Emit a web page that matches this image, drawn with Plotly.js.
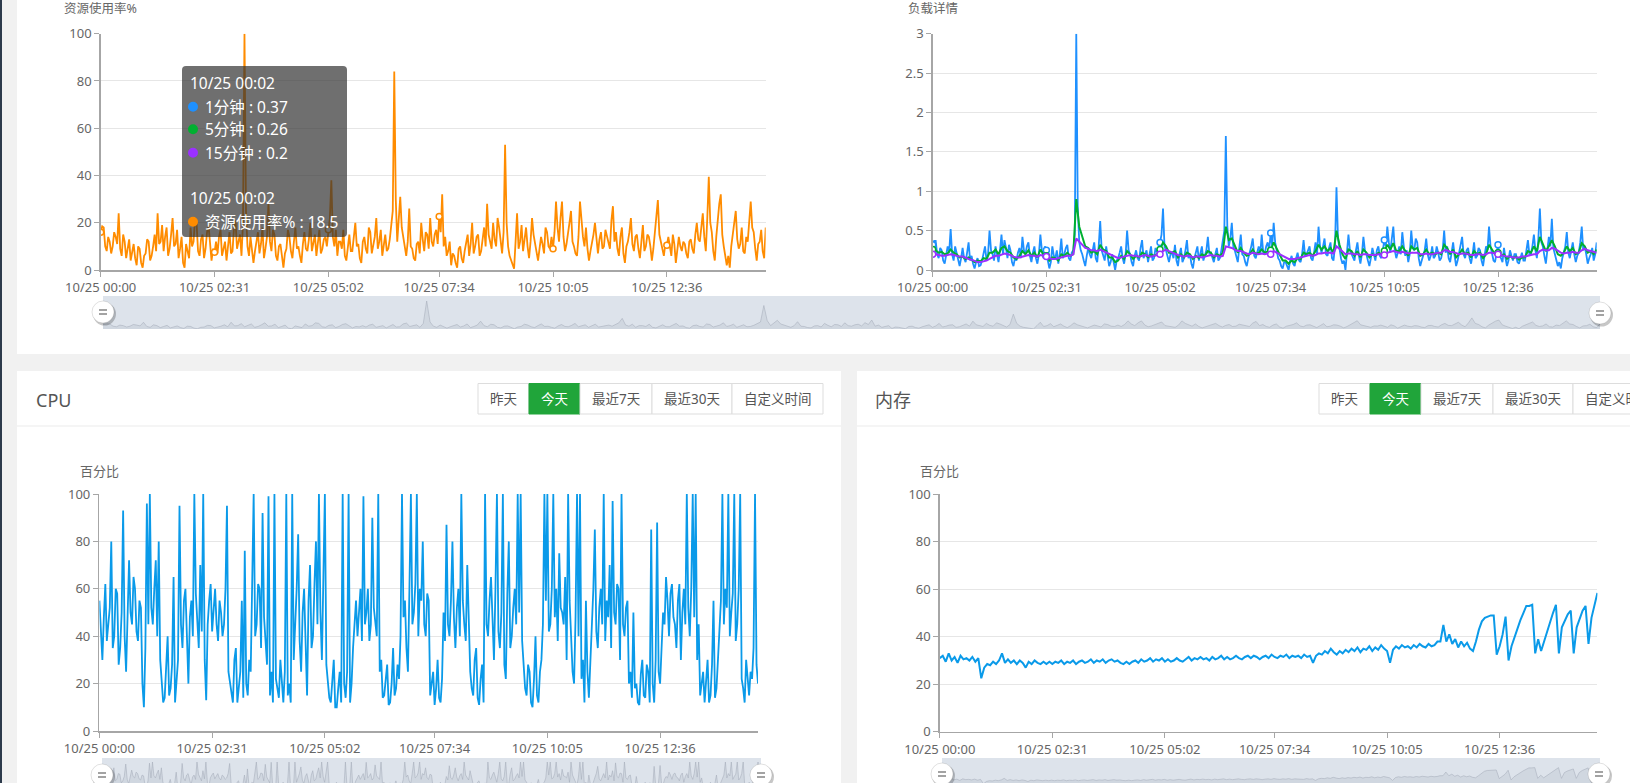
<!DOCTYPE html>
<html><head><meta charset="utf-8">
<script src="https://cdn.plot.ly/plotly-3.0.1.min.js"></script>
<style>html,body{margin:0;padding:0;background:#f1f1f1;overflow:hidden}#chart{width:1630px;height:783px}</style>
</head><body><div id="chart"></div>
<script>
// ---------- data ----------
const tickLabels = ['10/25 00:00','10/25 02:31','10/25 05:02','10/25 07:34','10/25 10:05','10/25 12:36'];
const tickMinutes = [0,152,304,452,604,756];
const fineStep = 2;    // minutes between samples (usage, load1, cpu)
const coarseStep = 4;  // minutes between samples (load5, load15, mem)

const usage = [
16,18.5,18,10,8,14,12,7,10,16,14,11,24,9,6,15,12,5,9,13,
4,8,11,5,2,10,9,3,1,6,7,13,12,4,6,10,15,8,24,11,
12,19,8,14,18,6,9,15,22,10,11,17,5,9,14,3,1,11,8,5,
18,10,12,22,20,8,6,13,15,5,9,16,19,12,4,9,7.5,12,7,14,
17,6,10,12,4,9,16,7,8,18,21,9,12,15,6,20,100,25,10,6,
14,9,3,8,12,16,7,11,18,5,9,14,28,12,8,17,15,6,4,10,
11,5,1,7,9,17,14,8,5,12,18,9,10,6,3,11,16,9,8,13,
20,8,12,15,6,11,17,7,9,13,14,10,17,22,38,14,10,17,6,12,
12,9,17,6,4,11,15,8,8,14,20,10,11,5,3,12,14,9,7,18,
16,7,10,14,22,9,12,17,6,11,15,8,9,13,18,25,84,30,12,20,
31,18,14,9,6,12,26,10,9,5,4,11,12,7,20,13,8,16,15,9,
22,12,10,15,17,11,22.6,16,32,10,14,6,8,12,2,7,6,3,1,9,
10,5,3,8,12,15,6,11,20,7,10,14,15,6,8,12,18,10,28,15,
12,9,20,13,10,22,18,12,7,16,53,20,10,6,4,2,0.5,12,24,9,
12,19,8,13,18,10,5,12,22,15,11,7,4,9,14,11,7,18,16,10,
9,14,9,16,29,18,12,22,29,14,8,11,15,20,25,12,10,7,6,14,
29,20,14,10,18,9,4,8,11,15,20,12,7,13,16,9,10,17,14,12,
9,21,27,12,16,9,6,14,18,7,3,10,12,16,22,11,8,14,15,9,
5,12,19,8,10,15,14,10,4,9,16,24,29.6,15,12,8,6,11,10.5,14,
9,6,15,11,3,8,14,10,8,12,11,7,5,12,13,9,7,15,20,13,
12,18,24,14,8,22,39.5,20,16,8,4,14,22,28,32,15,10,5,2,6,
1,10,14,20,25,13,9,11,18,8,7,14,12,22,29,18,16,9,4,11,
12,17,8,5,18];

const load1 = [
0.32,0.37,0.37,0.2,0.15,0.28,0.25,0.12,0.08,0.18,0.3,0.22,0.52,0.2,0.12,0.3,0.22,0.1,0.05,0.15,
0.28,0.15,0.1,0.22,0.35,0.12,0.18,0.08,0.02,0.1,0.15,0.05,0.06,0.12,0.22,0.3,0.12,0.2,0.5,0.25,
0.2,0.12,0.3,0.18,0.1,0.25,0.45,0.2,0.38,0.28,0.15,0.32,0.25,0.1,0.05,0.15,0.12,0.22,0.28,0.15,
0.42,0.25,0.2,0.3,0.35,0.18,0.1,0.22,0.3,0.15,0.08,0.2,0.45,0.25,0.15,0.3,0.25,0.12,0.02,0.1,
0.3,0.18,0.15,0.25,0.08,0.2,0.4,0.15,0.2,0.28,0.32,0.15,0.12,0.22,0.25,0.45,3.0,0.8,0.35,0.25,
0.2,0.12,0.05,0.18,0.28,0.2,0.15,0.25,0.35,0.15,0.1,0.3,0.62,0.25,0.18,0.12,0.3,0.15,0.05,0.1,
0.2,0.1,0.0,0.12,0.15,0.22,0.3,0.15,0.08,0.2,0.5,0.25,0.2,0.1,0.05,0.18,0.25,0.15,0.12,0.28,
0.38,0.15,0.2,0.25,0.1,0.18,0.3,0.12,0.15,0.28,0.22,0.18,0.35,0.45,0.78,0.3,0.25,0.15,0.1,0.2,
0.22,0.15,0.32,0.12,0.05,0.2,0.28,0.1,0.15,0.25,0.38,0.15,0.2,0.08,0.02,0.15,0.25,0.3,0.12,0.22,
0.3,0.12,0.18,0.25,0.42,0.2,0.22,0.15,0.1,0.2,0.28,0.12,0.15,0.25,0.35,0.5,1.7,0.55,0.3,0.4,
0.6,0.3,0.25,0.15,0.1,0.28,0.45,0.2,0.18,0.1,0.05,0.15,0.22,0.3,0.4,0.18,0.15,0.25,0.3,0.2,
0.45,0.22,0.2,0.3,0.35,0.25,0.47,0.3,0.6,0.35,0.25,0.15,0.12,0.05,0.02,0.1,0.1,0.05,0.0,0.12,
0.18,0.08,0.05,0.15,0.22,0.12,0.1,0.2,0.38,0.18,0.2,0.25,0.3,0.15,0.12,0.22,0.35,0.2,0.55,0.3,
0.22,0.3,0.4,0.2,0.18,0.28,0.35,0.15,0.12,0.3,1.05,0.4,0.25,0.15,0.08,0.12,0.0,0.2,0.45,0.25,
0.2,0.15,0.12,0.25,0.35,0.18,0.08,0.2,0.42,0.25,0.2,0.12,0.05,0.15,0.28,0.2,0.12,0.25,0.3,0.18,
0.15,0.25,0.38,0.3,0.55,0.35,0.22,0.4,0.55,0.25,0.15,0.22,0.3,0.2,0.48,0.3,0.18,0.25,0.1,0.2,
0.5,0.28,0.25,0.4,0.35,0.15,0.05,0.12,0.2,0.25,0.4,0.2,0.12,0.18,0.3,0.15,0.18,0.3,0.22,0.12,
0.15,0.25,0.5,0.22,0.3,0.15,0.1,0.2,0.35,0.18,0.05,0.12,0.22,0.3,0.42,0.2,0.15,0.25,0.28,0.15,
0.08,0.2,0.35,0.15,0.18,0.28,0.25,0.12,0.05,0.18,0.3,0.25,0.55,0.3,0.22,0.12,0.1,0.2,0.32,0.18,
0.15,0.1,0.28,0.15,0.05,0.12,0.25,0.18,0.12,0.2,0.2,0.1,0.08,0.15,0.22,0.12,0.12,0.25,0.38,0.2,
0.2,0.3,0.45,0.25,0.15,0.4,0.78,0.35,0.3,0.18,0.08,0.25,0.42,0.3,0.65,0.28,0.2,0.12,0.05,0.1,
0.02,0.15,0.25,0.3,0.48,0.22,0.15,0.25,0.35,0.2,0.1,0.18,0.22,0.35,0.55,0.25,0.3,0.2,0.08,0.15,
0.2,0.28,0.12,0.2,0.35];

const load5 = [
0.26,0.25,0.22,0.23,0.2,0.21,0.26,0.22,0.2,0.16,
0.17,0.14,0.16,0.13,0.1,0.12,0.11,0.15,0.14,0.22,
0.22,0.26,0.2,0.28,0.3,0.24,0.22,0.16,0.14,0.18,
0.24,0.2,0.25,0.18,0.22,0.16,0.26,0.2,0.18,0.12,
0.16,0.15,0.12,0.2,0.18,0.22,0.18,0.2,0.9,0.55,
0.42,0.3,0.28,0.22,0.24,0.2,0.32,0.26,0.24,0.16,
0.16,0.1,0.12,0.18,0.14,0.24,0.2,0.14,0.18,0.16,
0.22,0.2,0.16,0.2,0.18,0.2,0.26,0.35,0.3,0.22,
0.22,0.24,0.16,0.2,0.16,0.22,0.2,0.14,0.18,0.15,
0.2,0.18,0.24,0.22,0.16,0.2,0.18,0.22,0.55,0.38,
0.4,0.3,0.22,0.28,0.22,0.18,0.2,0.26,0.2,0.22,
0.26,0.22,0.24,0.25,0.35,0.28,0.2,0.12,0.12,0.08,
0.12,0.1,0.15,0.14,0.22,0.2,0.22,0.18,0.24,0.32,
0.26,0.3,0.24,0.28,0.22,0.5,0.32,0.2,0.14,0.26,
0.24,0.18,0.24,0.16,0.26,0.22,0.16,0.2,0.18,0.22,
0.2,0.24,0.32,0.26,0.34,0.24,0.24,0.3,0.24,0.18,
0.3,0.26,0.28,0.18,0.2,0.26,0.2,0.22,0.2,0.22,
0.2,0.32,0.28,0.2,0.26,0.16,0.2,0.26,0.2,0.22,
0.16,0.24,0.2,0.22,0.15,0.2,0.32,0.26,0.2,0.22,
0.18,0.2,0.14,0.18,0.15,0.17,0.13,0.16,0.16,0.24,
0.22,0.3,0.24,0.42,0.34,0.24,0.3,0.38,0.3,0.2,
0.18,0.22,0.3,0.24,0.28,0.2,0.22,0.34,0.3,0.22,
0.24,0.2,0.26];

const load15 = [
0.2,0.2,0.19,0.18,0.18,0.19,0.2,0.19,0.18,0.17,
0.17,0.15,0.14,0.13,0.11,0.1,0.1,0.11,0.12,0.14,
0.16,0.18,0.18,0.2,0.21,0.2,0.19,0.17,0.16,0.16,
0.17,0.18,0.19,0.18,0.18,0.17,0.19,0.18,0.17,0.15,
0.14,0.14,0.15,0.16,0.17,0.18,0.18,0.2,0.4,0.36,
0.32,0.28,0.27,0.25,0.25,0.24,0.26,0.24,0.22,0.2,
0.18,0.16,0.15,0.16,0.17,0.18,0.19,0.18,0.18,0.17,
0.18,0.19,0.18,0.17,0.18,0.19,0.2,0.24,0.26,0.24,
0.22,0.21,0.19,0.18,0.17,0.18,0.18,0.16,0.17,0.17,
0.16,0.17,0.18,0.19,0.18,0.18,0.17,0.18,0.3,0.29,
0.28,0.26,0.24,0.24,0.22,0.21,0.2,0.22,0.21,0.2,
0.21,0.2,0.21,0.2,0.24,0.22,0.2,0.17,0.15,0.14,
0.14,0.14,0.15,0.16,0.17,0.18,0.19,0.18,0.19,0.21,
0.21,0.22,0.22,0.22,0.21,0.3,0.27,0.24,0.2,0.21,
0.21,0.2,0.2,0.19,0.2,0.2,0.19,0.19,0.19,0.2,
0.2,0.19,0.22,0.23,0.24,0.23,0.22,0.23,0.22,0.21,
0.22,0.22,0.22,0.2,0.2,0.21,0.2,0.2,0.21,0.22,
0.22,0.25,0.25,0.23,0.23,0.21,0.2,0.21,0.21,0.2,
0.19,0.19,0.2,0.2,0.19,0.2,0.22,0.22,0.21,0.2,
0.19,0.18,0.17,0.17,0.16,0.16,0.16,0.17,0.17,0.18,
0.19,0.2,0.2,0.24,0.26,0.25,0.25,0.28,0.27,0.24,
0.22,0.21,0.22,0.22,0.23,0.22,0.22,0.25,0.27,0.25,
0.24,0.23,0.22];

const cpu = [
55,42,30,48,62,38,45,52,80,35,40,60,58,28,35,50,93,40,25,48,
72,50,45,65,60,42,38,55,52,20,10,35,96,45,100,52,45,60,72,40,
80,30,22,12,14,25,40,15,18,28,65,12,20,30,95,45,35,55,60,38,
20,48,55,40,100,58,45,35,70,42,100,30,13,45,55,62,42,50,60,45,
38,55,50,40,45,60,95,25,20,15,12,30,35,12,18,25,55,14,76,20,
15,30,25,55,100,40,45,62,60,35,92,48,38,28,99,15,25,12,100,22,
18,14,30,20,12,25,100,15,20,12,100,30,45,60,83,38,25,50,60,42,
15,55,70,35,40,62,80,45,100,50,30,65,100,28,20,14,12,22,30,10,
10,18,25,12,100,20,14,25,100,12,20,35,45,55,40,48,60,38,99,45,
50,60,38,45,90,52,45,40,100,25,30,14,15,22,28,11,12,20,35,15,
18,28,22,40,100,48,55,35,25,60,100,45,50,62,100,40,60,55,80,45,
40,58,55,15,20,25,11,18,30,14,12,22,50,38,87,45,40,55,80,48,
35,52,60,40,100,55,45,38,70,42,25,18,15,30,35,14,11,22,28,12,
100,45,40,55,65,48,30,60,100,42,35,50,100,28,22,58,80,35,40,52,
60,45,100,50,100,38,30,18,15,28,25,12,10,22,40,15,12,25,30,45,
100,55,100,42,45,60,100,48,60,38,75,52,50,45,65,30,100,55,40,25,
20,48,100,40,100,22,30,12,55,25,14,30,45,60,85,42,35,52,60,45,
100,38,55,48,70,35,97,50,45,62,60,30,100,45,40,52,55,20,25,14,
50,18,20,12,11,24,30,15,14,28,25,12,85,20,12,30,88,25,20,40,
50,45,65,55,40,58,62,48,45,35,55,62,30,50,60,45,100,52,40,60,
100,48,100,30,45,15,20,25,12,20,30,12,15,28,55,14,18,30,40,55,
100,45,60,52,100,40,50,58,100,38,45,60,100,22,18,12,30,20,15,25,
22,35,100,28,20];

const mem = [
31,32,29.5,33,30,31.5,29,32,30.5,31,
30,31.5,29.5,31,22.5,27,28.5,28,29.5,28.5,
30,33,29,30.5,29,30,28.5,30,29,27,
29.5,28.5,30,29,28.5,29.5,28.5,29.5,28.5,29.5,
29,30,28.5,29.5,29,30,28.5,29.5,30,29,
29.5,30.5,29,30,29.5,30.5,29,30,30.5,29.5,
30,29,28.5,29.5,28.5,29.5,30,29,30.5,29.5,
30,31,29.5,30.5,30,31,29.5,30.5,29.5,30,
31,30,29.5,30.5,31.5,30,31,30.5,31.5,30.5,
31,30,31.5,30.5,31,32,30.5,31.5,30.5,31,
32,31,30.5,31.5,32,31,32,31.5,30.5,31.5,
32,31,32.5,31.5,31,32,31.5,32.5,31,32,
31.5,32,31,32.5,31.5,32,29,32,33,32.5,
34,33,35,33.5,32.5,34,33,34.5,33.5,35,
34,35.5,33.5,35,34.5,36,34,35.5,34.5,36.5,
35,34,29,34.5,36,35,36.5,35.5,36,35,
36.5,35.5,37,36,35.5,37,36,36.5,38,38,
45,38,41,37,39,35.5,38,36,37.5,35,
34,38,43,46.5,48,48.5,49,49,32.5,36,
41,48.5,30,36,40,43,47,50,53,53,
53.5,33,39,34,38,43,47,50,53.5,33,
44,47,49.5,51,33,44,48,51,53,37,
48,53,58.5];

const tooltipTime = '10/25 00:02';
const tooltipLoadNames = ['1分钟','5分钟','15分钟'];
const tooltipLoadValues = [0.37, 0.26, 0.2];
const tooltipUsageName = '资源使用率%';
const tooltipUsageValue = 18.5;
const rangeButtons = ['昨天','今天','最近7天','最近30天','自定义时间'];
const activeButton = '今天';

// ---------- layout helpers ----------
const W = 1630, H = 783;
const FONT = '"Noto Sans", "Noto Sans CJK SC", sans-serif';
const X = p => p / W;
const Y = p => 1 - p / H;
const dx = (l, r) => [l / W, r / W];
const dy = (t, b) => [1 - b / H, 1 - t / H];

const timesOf = (arr, step) => arr.map((_, i) => i * step);
const markOpacity = (arr, step) => arr.map((_, i) => tickMinutes.includes(i * step) ? 1 : 0);
const colors = {usage:'#ff8c00', l1:'#1e90ff', l5:'#00b030', l15:'#9b30ff', cpu:'#0a9ae9'};

function mainX(l, r, anchor) {
  return {domain: dx(l, r), anchor, range: [0, 888], tickmode: 'array', tickvals: tickMinutes, ticktext: tickLabels,
    showline: true, linecolor: '#a6a6a6', linewidth: 1.5, ticks: 'outside', ticklen: 5, tickcolor: '#a6a6a6', tickwidth: 1,
    showgrid: false, zeroline: false, tickfont: {family: FONT, size: 13, color: '#666'}, fixedrange: true};
}
function mainY(t, b, anchor, range, dtick) {
  return {domain: dy(t, b), anchor, range, dtick, showline: true, linecolor: '#a6a6a6', linewidth: 1.5,
    ticks: 'outside', ticklen: 5, tickcolor: '#a6a6a6', tickwidth: 1, showgrid: true, gridcolor: '#e6e6e6', gridwidth: 1,
    zeroline: false, tickfont: {family: FONT, size: 13, color: '#666'}, fixedrange: true};
}
function miniX(l, r, anchor) { return {domain: dx(l, r), anchor, range: [0, 888], visible: false, fixedrange: true}; }
function miniY(t, b, anchor, range) { return {domain: dy(t, b), anchor, range, visible: false, fixedrange: true}; }

function lineTrace(y, step, xa, ya, color, withMarkers, width) {
  const t = {x: timesOf(y, step), y, xaxis: xa, yaxis: ya, type: 'scatter', mode: withMarkers ? 'lines+markers' : 'lines',
    line: {color, width: width || 2}, hoverinfo: 'skip'};
  if (withMarkers) t.marker = {size: 6, color: '#fff', opacity: markOpacity(y, step), line: {color, width: 1.5}};
  return t;
}
function miniTrace(y, step, xa, ya) {
  return {x: timesOf(y, step), y, xaxis: xa, yaxis: ya, type: 'scatter', mode: 'lines', fill: 'tozeroy',
    fillcolor: 'rgba(175,183,196,0.28)', line: {color: 'rgba(165,173,186,0.55)', width: 1}, hoverinfo: 'skip'};
}

const data = [
  lineTrace(usage, fineStep, 'x', 'y', colors.usage, true, 1.8),
  lineTrace(load1, fineStep, 'x2', 'y2', colors.l1, true, 1.8),
  lineTrace(load5, coarseStep, 'x2', 'y2', colors.l5, true, 2),
  lineTrace(load15, coarseStep, 'x2', 'y2', colors.l15, true, 2),
  lineTrace(cpu, fineStep, 'x3', 'y3', colors.cpu, false, 1.8),
  lineTrace(mem, coarseStep, 'x4', 'y4', colors.cpu, false, 2),
  miniTrace(usage, fineStep, 'x5', 'y5'),
  miniTrace(cpu, fineStep, 'x6', 'y6'),
  miniTrace(mem, coarseStep, 'x7', 'y7')
];

// ---------- shapes ----------
const shapes = [];
function rect(x0, y0, x1, y1, fill, line, layer) {
  shapes.push({type: 'rect', xref: 'paper', yref: 'paper', x0: X(x0), x1: X(x1), y0: Y(y1), y1: Y(y0),
    fillcolor: fill, line: line || {width: 0}, layer: layer || 'below'});
}
function hline(x0, x1, y, color) {
  shapes.push({type: 'line', xref: 'paper', yref: 'paper', x0: X(x0), x1: X(x1), y0: Y(y), y1: Y(y), line: {color, width: 1}, layer: 'below'});
}
function circle(cx, cy, r, fill, line, layer) {
  shapes.push({type: 'circle', xref: 'paper', yref: 'paper', x0: X(cx - r), x1: X(cx + r), y0: Y(cy + r), y1: Y(cy - r),
    fillcolor: fill, line: line || {width: 0}, layer: layer || 'above'});
}
function handle(cx, cy) {
  circle(cx + 1.5, cy + 2, 11.5, 'rgba(0,0,0,0.22)');
  circle(cx, cy, 11, '#ffffff', {color: 'rgba(0,0,0,0.12)', width: 1});
  [-2, 2].forEach(d => shapes.push({type: 'line', xref: 'paper', yref: 'paper', x0: X(cx - 4), x1: X(cx + 4), y0: Y(cy + d), y1: Y(cy + d),
    line: {color: '#666', width: 1.2}, layer: 'above'}));
}
function roundRect(x0, y0, x1, y1, r) {
  const p = (x, y) => X(x) + ',' + Y(y);
  return 'M' + p(x0 + r, y0) + ' L' + p(x1 - r, y0) + ' Q' + p(x1, y0) + ' ' + p(x1, y0 + r) +
    ' L' + p(x1, y1 - r) + ' Q' + p(x1, y1) + ' ' + p(x1 - r, y1) + ' L' + p(x0 + r, y1) +
    ' Q' + p(x0, y1) + ' ' + p(x0, y1 - r) + ' L' + p(x0, y0 + r) + ' Q' + p(x0, y0) + ' ' + p(x0 + r, y0) + ' Z';
}

// page background & cards
rect(0, 0, 2, H, '#2d3a4b');
rect(17, 0, W, 354, '#ffffff');
rect(17, 371, 841, H + 10, '#ffffff');
rect(857, 371, W + 10, H + 10, '#ffffff');
hline(17, 841, 426, '#ebebeb');
hline(857, W, 426, '#ebebeb');

// slider backgrounds
rect(103, 296, 1600, 329, '#dde3eb');
rect(102, 758, 761, 791, '#dde3eb');
rect(942, 758, 1600, 791, '#dde3eb');

// button groups
const annotations = [];
const btnWidths = [51, 51, 72, 80, 91];
function buttons(startX) {
  let x = startX;
  rangeButtons.forEach((label, i) => {
    const w = btnWidths[i];
    const active = label === activeButton;
    rect(x, 383.5, x + w, 414, active ? '#20a53a' : '#ffffff', {color: active ? '#20a53a' : '#dddddd', width: 1});
    annotations.push({xref: 'paper', yref: 'paper', x: X(x + w / 2), y: Y(399), text: label, showarrow: false,
      xanchor: 'center', yanchor: 'middle', font: {family: FONT, size: 13.5, color: active ? '#ffffff' : '#555'}});
    x += w;
  });
}
buttons(478);
buttons(1319);

// tooltip
shapes.push({type: 'path', xref: 'paper', yref: 'paper', path: roundRect(182, 66, 347, 237, 4),
  fillcolor: 'rgba(50,50,50,0.7)', line: {width: 0}, layer: 'above'});
const tipRows = [106.7, 129.3, 152.7];
[colors.l1, colors.l5, colors.l15].forEach((c, i) => circle(193, tipRows[i], 5, c));
circle(193, 221.7, 5, colors.usage);

handle(103, 312); handle(1600, 313);
handle(102, 775); handle(761, 775);
handle(942, 774); handle(1599, 774);

// ---------- annotations ----------
function txt(x, y, text, size, color, anchor) {
  annotations.push({xref: 'paper', yref: 'paper', x: X(x), y: Y(y), text, showarrow: false,
    xanchor: anchor || 'center', yanchor: 'middle', font: {family: FONT, size, color}});
}
txt(100.7, 9, '资源使用率%', 12.5, '#666');
txt(932.7, 9, '负载详情', 12.5, '#666');
txt(99.4, 471, '百分比', 13, '#666');
txt(939.8, 471, '百分比', 13, '#666');
txt(34, 400, 'CPU', 18, '#555', 'left');
txt(873, 400, '内存', 18, '#555', 'left');

txt(188, 83, tooltipTime, 15.5, '#fff', 'left');
tooltipLoadNames.forEach((n, i) => txt(203, tipRows[i], n + ' : ' + tooltipLoadValues[i], 15.5, '#fff', 'left'));
txt(188, 198.3, tooltipTime, 15.5, '#fff', 'left');
txt(203, 221.7, tooltipUsageName + ' : ' + tooltipUsageValue, 15.5, '#fff', 'left');

const layout = {
  width: W, height: H, margin: {l: 0, r: 0, t: 0, b: 0, pad: 0},
  paper_bgcolor: '#f1f1f1', plot_bgcolor: 'rgba(0,0,0,0)', showlegend: false, hovermode: false,
  font: {family: FONT, color: '#666'},
  xaxis: mainX(100.7, 765.7, 'y'), yaxis: mainY(33.7, 270, 'x', [0, 100], 20),
  xaxis2: mainX(932.7, 1596.7, 'y2'), yaxis2: mainY(33.7, 270, 'x2', [0, 3], 0.5),
  xaxis3: mainX(99.4, 758, 'y3'), yaxis3: mainY(494, 731, 'x3', [0, 100], 20),
  xaxis4: mainX(939.8, 1597.4, 'y4'), yaxis4: mainY(494.4, 731.7, 'x4', [0, 100], 20),
  xaxis5: miniX(103, 1600, 'y5'), yaxis5: miniY(296, 329, 'x5', [0, 117.9]),
  xaxis6: miniX(102, 761, 'y6'), yaxis6: miniY(758, 783, 'x6', [27.6, 113.8]),
  xaxis7: miniX(942, 1600, 'y7'), yaxis7: miniY(758, 783, 'x7', [24.1, 71.9]),
  shapes, annotations
};
Plotly.newPlot('chart', data, layout, {staticPlot: true, displayModeBar: false});
</script></body></html>
